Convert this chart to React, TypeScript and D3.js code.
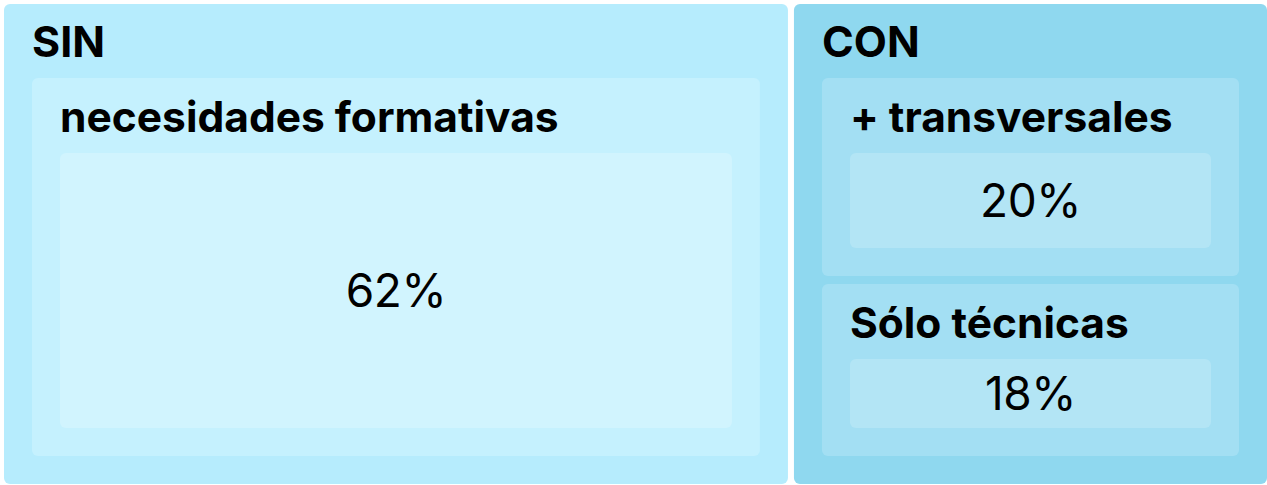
import React from "react";
import * as d3 from "d3";

const groups = ["SIN", "CON"];
const subgroups = ["necesidades formativas", "+ transversales", "Sólo técnicas"];
const subgroupParent = ["SIN", "CON", "CON"];
const values = [62.25, 20.15, 17.6];

const W = 1267;
const H = 485;

const fills: Record<string, string[]> = {
  SIN: ["#b6ecfd", "#c5f1fe", "#d1f4fe"],
  CON: ["#8fd8ef", "#a3dff3", "#b3e5f5"],
};

type Node = { name: string; group?: string; label?: string; value?: number; children?: Node[] };

function buildTree(): Node {
  return {
    name: "root",
    children: groups.map((g) => ({
      name: g,
      group: g,
      children: subgroups
        .map((s, i) => ({ s, i }))
        .filter(({ i }) => subgroupParent[i] === g)
        .map(({ s, i }) => ({
          name: s,
          group: g,
          children: [
            { name: s + "-value", group: g, label: Math.round(values[i]) + "%", value: values[i] },
          ],
        })),
    })),
  };
}

export default function App() {
  const root = d3.hierarchy<Node>(buildTree()).sum((d) => d.value ?? 0);

  const layout = d3
    .treemap<Node>()
    .size([W, H])
    .tile(d3.treemapSliceDice)
    .paddingInner((n) => (n.depth === 0 ? 6 : 8))
    .paddingTop((n) => (n.depth === 0 ? 4 : n.depth === 1 ? 74 : 75))
    .paddingLeft((n) => (n.depth === 0 ? 4 : 28))
    .paddingRight((n) => (n.depth === 0 ? 0 : 28))
    .paddingBottom((n) => (n.depth === 0 ? 1 : 28));

  const t = layout(root);
  const nodes = t.descendants().filter((n) => n.depth > 0);

  return (
    <svg
      width={W}
      height={H}
      style={{ position: "absolute", left: 0, top: 0, background: "#ffffff" }}
      fontFamily="Inter, 'Noto Sans', sans-serif"
    >
      {nodes.map((n, i) => {
        const g = n.data.group as string;
        const fill = fills[g][n.depth - 1];
        const w = n.x1 - n.x0;
        const h = n.y1 - n.y0;
        return (
          <g key={i}>
            <rect x={n.x0} y={n.y0} width={w} height={h} rx={6} ry={6} fill={fill} />
            {n.depth === 1 && (
              <text x={n.x0 + 28} y={n.y0 + 52.5} fontSize={43} fontWeight={700} fill="#000">
                {n.data.name}
              </text>
            )}
            {n.depth === 2 && (
              <text x={n.x0 + 28} y={n.y0 + 53.5} fontSize={42.5} fontWeight={700} fill="#000">
                {n.data.name}
              </text>
            )}
            {n.depth === 3 && (
              <text
                x={(n.x0 + n.x1) / 2}
                y={(n.y0 + n.y1) / 2}
                dy="0.35em"
                textAnchor="middle"
                fontSize={46}
                fontWeight={400}
                letterSpacing={-0.5}
                fill="#000"
              >
                {n.data.label}
              </text>
            )}
          </g>
        );
      })}
    </svg>
  );
}
